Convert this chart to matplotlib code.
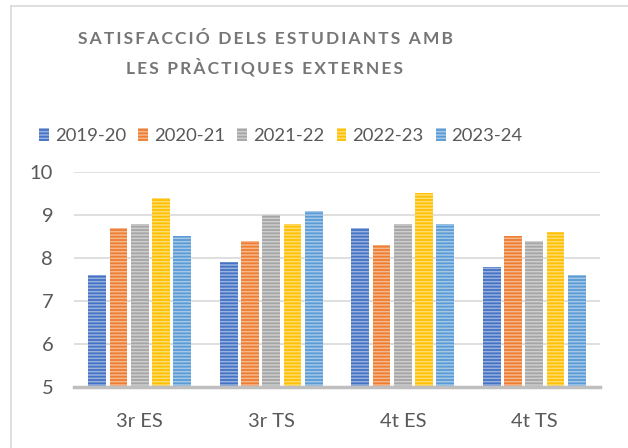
import numpy as np
import matplotlib.pyplot as plt
from matplotlib.patches import Rectangle
from matplotlib.lines import Line2D
from matplotlib.colors import to_rgb

plt.rcParams['font.family'] = ['Lato', 'DejaVu Sans']
plt.rcParams['hatch.linewidth'] = 1.1

categories = ["3r ES", "3r TS", "4t ES", "4t TS"]
years = ["2019-20", "2020-21", "2021-22", "2022-23", "2023-24"]
v2019 = [7.6, 7.9, 8.7, 7.8]
v2020 = [8.7, 8.4, 8.3, 8.5]
v2021 = [8.8, 9.0, 8.8, 8.4]
v2022 = [9.4, 8.8, 9.5, 8.6]
v2023 = [8.5, 9.1, 8.8, 7.6]
series = [v2019, v2020, v2021, v2022, v2023]
colors = ["#4472C4", "#ED7D31", "#A5A5A5", "#FFC000", "#5B9BD5"]


def lighter(c, f=0.45):
    r, g, b = to_rgb(c)
    return (r + (1 - r) * f, g + (1 - g) * f, b + (1 - b) * f)


def spaced(s):
    # wide letter spacing like the Excel title
    return "  ".join("\u2009".join(w) for w in s.split())


fig = plt.figure(figsize=(6.28, 4.48), dpi=100)
ax = fig.add_axes([74 / 628, 61 / 448, 526 / 628, 215 / 448])

x = np.arange(len(categories))
width = 0.135
pitch = 0.162
for i, (vals, c) in enumerate(zip(series, colors)):
    ax.bar(x + (i - 2) * pitch, np.array(vals) - 5, width, bottom=5,
           color=c, edgecolor=lighter(c), linewidth=0, hatch='-----',
           zorder=3)

ax.set_ylim(5, 10)
ax.set_xlim(-0.5, 3.5)
ax.set_xticks(x)
ax.set_xticklabels(categories)
ax.set_yticks([5, 6, 7, 8, 9, 10])
ax.tick_params(axis='both', length=0, labelsize=14.5, labelcolor="#595959")
ax.tick_params(axis='y', pad=15)
ax.tick_params(axis='x', pad=19)
ax.grid(axis='y', color="#D9D9D9", linewidth=1.2, zorder=0)
for s in ['top', 'right', 'left']:
    ax.spines[s].set_visible(False)
ax.spines['bottom'].set_color("#BFBFBF")
ax.spines['bottom'].set_linewidth(2.5)
ax.spines['bottom'].set_zorder(4)

fig.text(265 / 628, 1 - 39 / 448, spaced("SATISFACCIÓ DELS ESTUDIANTS AMB"),
         ha='center', va='center', fontsize=12.5, fontweight='bold', color="#767676")
fig.text(265 / 628, 1 - 67 / 448, spaced("LES PRÀCTIQUES EXTERNES"),
         ha='center', va='center', fontsize=12.5, fontweight='bold', color="#767676")

handles = [Rectangle((0, 0), 1, 1, facecolor=c, edgecolor=lighter(c),
                     linewidth=0, hatch='-----') for c in colors]
fig.legend(handles, years, loc='center', bbox_to_anchor=(281 / 628, 1 - 136 / 448),
           ncol=5, frameon=False, fontsize=13.3, labelcolor="#595959",
           handlelength=0.54, handleheight=0.75, handletextpad=0.32,
           columnspacing=0.65)

# chart frame (only top and left edges visible)
fig.add_artist(Line2D([10.5 / 628, 1], [1 - 6 / 448, 1 - 6 / 448],
                      color="#D9D9D9", linewidth=1.2))
fig.add_artist(Line2D([10.5 / 628, 10.5 / 628], [0, 1 - 6 / 448],
                      color="#D9D9D9", linewidth=1.2))

fig.savefig("out.png", dpi=100)
